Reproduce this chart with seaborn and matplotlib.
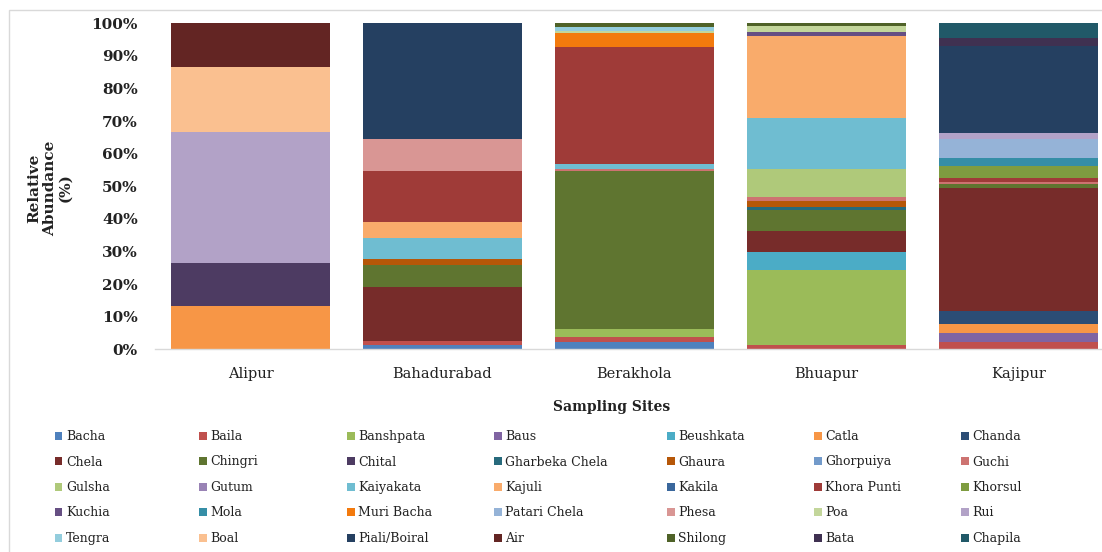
import numpy as np
import pandas as pd
import matplotlib
matplotlib.use("Agg")
import matplotlib.pyplot as plt
import seaborn as sns
from matplotlib.patches import Patch, Rectangle
from matplotlib.ticker import PercentFormatter

sites = ["Alipur", "Bahadurabad", "Berakhola", "Bhuapur", "Kajipur"]

species = ["Bacha", "Baila", "Banshpata", "Baus", "Beushkata", "Catla", "Chanda",
           "Chela", "Chingri", "Chital", "Gharbeka Chela", "Ghaura", "Ghorpuiya", "Guchi",
           "Gulsha", "Gutum", "Kaiyakata", "Kajuli", "Kakila", "Khora Punti", "Khorsul",
           "Kuchia", "Mola", "Muri Bacha", "Patari Chela", "Phesa", "Poa", "Rui",
           "Tengra", "Boal", "Piali/Boiral", "Air", "Shilong", "Bata", "Chapila"]

colors = ["#4F81BD", "#C0504D", "#9BBB59", "#8064A2", "#4BACC6", "#F79646", "#2C4D75",
          "#772C2A", "#5F7530", "#4D3B62", "#276A7C", "#B65708", "#729ACA", "#CD7371",
          "#AFC97A", "#9983B5", "#6FBDD1", "#F9AB6B", "#3A679C", "#9F3B38", "#7E9C40",
          "#664F83", "#358EA6", "#F37A0D", "#95B3D7", "#D99694", "#C3D69B", "#B2A2C7",
          "#93CDDD", "#FAC090", "#254061", "#632523", "#4F6228", "#3F3151", "#215968"]

# relative abundance (%) per site, in species order
alipur = [0, 0, 0, 0, 0, 13.3, 0,
          0, 0, 13.3, 0, 0, 0, 0,
          0, 0, 0, 0, 0, 0, 0,
          0, 0, 0, 0, 0, 0, 40.0,
          0, 20.0, 0, 13.4, 0, 0, 0]
bahadurabad = [1.3, 1.3, 0, 0, 0, 0, 0,
               16.4, 6.9, 0, 0, 1.8, 0, 0,
               0, 0, 6.5, 5.0, 0, 15.4, 0,
               0, 0, 0, 0, 9.8, 0, 0,
               0, 0, 35.6, 0, 0, 0, 0]
berakhola = [2.2, 1.7, 2.3, 0, 0, 0, 0,
             0, 48.4, 0, 0, 0, 0, 0.8,
             0, 0, 1.3, 0, 0, 36.1, 0,
             0, 0, 4.1, 0, 0, 0.7, 0,
             1.35, 0, 0, 0, 1.05, 0, 0]
bhuapur = [0, 1.3, 22.9, 0, 5.6, 0, 0,
           6.4, 6.5, 0, 1.0, 1.9, 0, 1.2,
           8.6, 0, 15.4, 25.4, 0, 0, 0,
           1.0, 0, 0, 0, 0, 2.0, 0,
           0, 0, 0, 0, 0.8, 0, 0]
kajipur = [0, 2.3, 0, 2.8, 0, 2.6, 4.1,
           37.7, 1.1, 0, 0, 0, 0, 0.8,
           0, 0, 0, 0, 0, 1.0, 3.8,
           0, 2.6, 0, 5.8, 0, 0, 1.6,
           0, 0, 26.8, 0, 0, 2.5, 4.5]

table = pd.DataFrame([alipur, bahadurabad, berakhola, bhuapur, kajipur],
                     index=sites, columns=species) / 100.0

sns.set_theme(style="white")
plt.rcParams["font.family"] = ["DejaVu Serif"]

W, H = 1102, 552
fig = plt.figure(figsize=(W / 100, H / 100), dpi=100)
fig.patch.set_facecolor("white")

left_px, right_px, bottom_px, top_px = 154.5, 1114.5, 349.3, 23.3
ax = fig.add_axes([left_px / W, 1 - bottom_px / H,
                   (right_px - left_px) / W, (bottom_px - top_px) / H])

cum = np.zeros(len(sites))
for sp, col in zip(species, colors):
    vals = table[sp].to_numpy()
    sns.barplot(x=sites, y=vals, bottom=cum, color=col, width=0.83,
                linewidth=0, errorbar=None, order=sites, ax=ax, saturation=1)
    cum = cum + vals

ax.set_xlim(-0.5, 4.5)
ax.set_ylim(0, 1.0)
ax.set_yticks(np.arange(0, 1.01, 0.1))
ax.yaxis.set_major_formatter(PercentFormatter(1.0, decimals=0))
for s in ["top", "right", "left"]:
    ax.spines[s].set_visible(False)
ax.spines["bottom"].set_color("#D9D9D9")
ax.spines["bottom"].set_linewidth(1.0)
ax.tick_params(axis="both", length=0)
ax.tick_params(axis="y", pad=12, labelsize=11, labelcolor="#222222")
ax.tick_params(axis="x", pad=12.5, labelsize=10.5, labelcolor="#222222")
for lab in ax.get_yticklabels():
    lab.set_fontweight("bold")
ax.set_xlabel("")
ax.set_ylabel("")

fig.text(612 / W, 1 - 407 / H, "Sampling Sites", ha="center", va="center",
         fontsize=10, fontweight="bold", color="#222222")
fig.text(50 / W, 1 - 188 / H, "Relative\nAbundance\n(%)", ha="center", va="center",
         rotation=90, fontsize=11, fontweight="bold", color="#222222",
         multialignment="center", linespacing=1.15)

# legend: 7 columns, row-major order
col_x = [56, 200, 348, 495, 668, 815, 962]
for j in range(7):
    idx = list(range(j, len(species), 7))
    handles = [Patch(facecolor=colors[i], edgecolor="none") for i in idx]
    labels = [species[i] for i in idx]
    fig.legend(handles, labels, loc="upper left",
               bbox_to_anchor=((col_x[j] - 1) / W, 1 - 430 / H),
               frameon=False, fontsize=9, handlelength=0.6, handleheight=0.6,
               handletextpad=0.3, labelspacing=1.0, borderpad=0,
               borderaxespad=0, labelcolor="#222222")

fig.patches.append(Rectangle((9 / W, -0.1), 1.2, 1.1 - 10 / H,
                             transform=fig.transFigure, fill=False,
                             edgecolor="#D9D9D9", linewidth=1.0))

fig.savefig("out.png", dpi=100, facecolor="white")
